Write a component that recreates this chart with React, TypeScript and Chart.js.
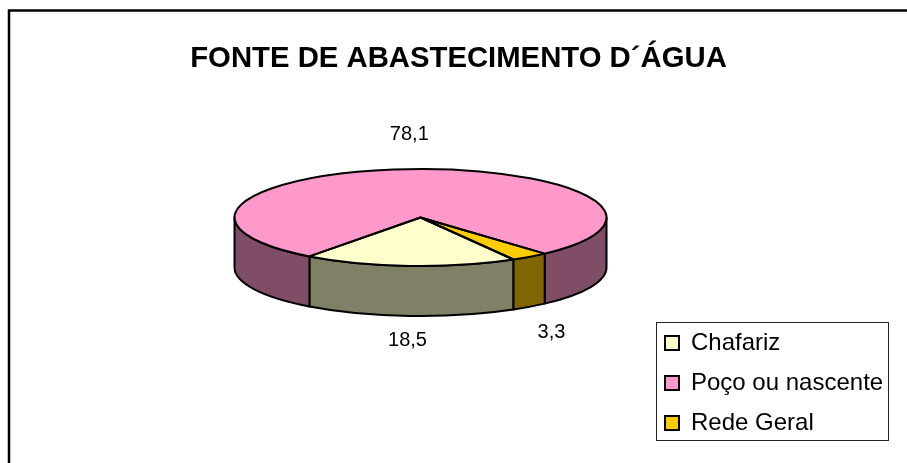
import React, { useEffect, useRef } from "react";
import { Chart, registerables } from "chart.js";

Chart.register(...registerables);

const categories = ["Chafariz", "Poço ou nascente", "Rede Geral"];
const values = [18.5, 78.1, 3.3];
const valueLabels = ["18,5", "78,1", "3,3"];
const topColors = ["#FFFFCC", "#FF99CC", "#FFCC00"];
const wallColors = ["#808066", "#804D66", "#806600"];
const titleText = "FONTE DE ABASTECIMENTO D´ÁGUA";
const FONT = "'Liberation Sans', Arial, sans-serif";

const CX = 420.5;
const CY = 217.5;
const RX = 186;
const RY = 48.5;
const DEPTH = 50;

const wallSegments = (s: number, e: number) => {
  const out: [number, number][] = [];
  const T = Math.PI * 2;
  for (let k = -2; k <= 2; k++) {
    const a = Math.max(s, k * T);
    const b = Math.min(e, k * T + Math.PI);
    if (b > a) out.push([a, b]);
  }
  return out;
};

const pie3d = {
  id: "pie3d",
  afterLayout(chart: any) {
    const l = chart.legend;
    l.left = 649;
    l.right = 907;
    l.top = 315;
    l.bottom = 463;
    l.width = 258;
    l.height = 148;
  },
  beforeDraw(chart: any) {
    const { ctx, width, height } = chart;
    ctx.save();
    ctx.fillStyle = "#fff";
    ctx.fillRect(0, 0, width, height);
    ctx.strokeStyle = "#000";
    ctx.lineWidth = 2.5;
    ctx.beginPath();
    ctx.moveTo(9, height + 2);
    ctx.lineTo(9, 10.5);
    ctx.lineTo(width + 2, 10.5);
    ctx.stroke();
    ctx.lineWidth = 1;
    ctx.strokeStyle = "#222";
    ctx.strokeRect(656.5, 322.5, 232, 118);
    ctx.restore();
  },
  beforeDatasetsDraw(chart: any) {
    const { ctx } = chart;
    const arcs = chart.getDatasetMeta(0).data;
    ctx.save();
    ctx.strokeStyle = "#000";
    ctx.lineWidth = 2;
    ctx.lineJoin = "round";
    arcs.forEach((arc: any, i: number) => {
      wallSegments(arc.startAngle, arc.endAngle).forEach(([a, b]) => {
        ctx.beginPath();
        ctx.ellipse(CX, CY, RX, RY, 0, a, b);
        ctx.ellipse(CX, CY + DEPTH, RX, RY, 0, b, a, true);
        ctx.closePath();
        ctx.fillStyle = wallColors[i];
        ctx.fill();
        ctx.stroke();
      });
    });
    ctx.restore();
    const a0 = arcs[0];
    ctx.save();
    ctx.translate(CX, CY);
    ctx.scale(1, RY / a0.outerRadius);
    ctx.translate(-a0.x, -a0.y);
  },
  afterDatasetsDraw(chart: any) {
    const { ctx } = chart;
    ctx.restore();
    const arcs = chart.getDatasetMeta(0).data;
    ctx.save();
    ctx.strokeStyle = "#000";
    ctx.lineWidth = 2;
    ctx.lineJoin = "round";
    arcs.forEach((arc: any) => {
      ctx.beginPath();
      ctx.moveTo(CX, CY);
      ctx.ellipse(CX, CY, RX, RY, 0, arc.startAngle, arc.endAngle);
      ctx.closePath();
      ctx.stroke();
    });
    ctx.fillStyle = "#000";
    ctx.font = `20px ${FONT}`;
    ctx.textAlign = "center";
    ctx.textBaseline = "middle";
    arcs.forEach((arc: any, i: number) => {
      const mid = (arc.startAngle + arc.endAngle) / 2;
      const dx = Math.cos(mid);
      const dy = Math.sin(mid);
      const x = CX + dx * RX * 1.2 + (dy < 0 ? -1 : 0);
      const y = CY + dy * RY * 0.85 + (dy > 0 ? DEPTH + 32 : -42);
      ctx.fillText(valueLabels[i], x, y);
    });
    ctx.restore();
  },
};

export default function App() {
  const ref = useRef<HTMLCanvasElement>(null);
  useEffect(() => {
    const pieLabels = (Chart as any).overrides.pie.plugins.legend.labels.generateLabels;
    const chart = new Chart(ref.current!, {
      type: "pie",
      data: {
        labels: categories,
        datasets: [
          {
            data: values,
            backgroundColor: topColors,
            borderWidth: 0,
            radius: RX,
            clip: false,
          } as any,
        ],
      },
      options: {
        responsive: false,
        animation: false,
        rotation: 150,
        layout: { padding: { left: 10 } },
        plugins: {
          tooltip: { enabled: false },
          title: {
            display: true,
            text: titleText,
            color: "#000",
            font: { family: FONT, size: 29.3, weight: "bold" },
            padding: { top: 41, bottom: 10 },
          },
          legend: {
            display: true,
            position: "right",
            align: "start",
            labels: {
              color: "#000",
              font: { family: FONT, size: 24 },
              boxWidth: 14,
              boxHeight: 14,
              padding: 16,
              generateLabels: (c: any) =>
                pieLabels(c).map((it: any) => ({
                  ...it,
                  strokeStyle: "#000",
                  lineWidth: 2,
                })),
            },
          },
        },
      } as any,
      plugins: [pie3d],
    });
    return () => chart.destroy();
  }, []);
  return (
    <canvas
      ref={ref}
      width={907}
      height={463}
      style={{ position: "fixed", left: 0, top: 0, display: "block" }}
    />
  );
}
